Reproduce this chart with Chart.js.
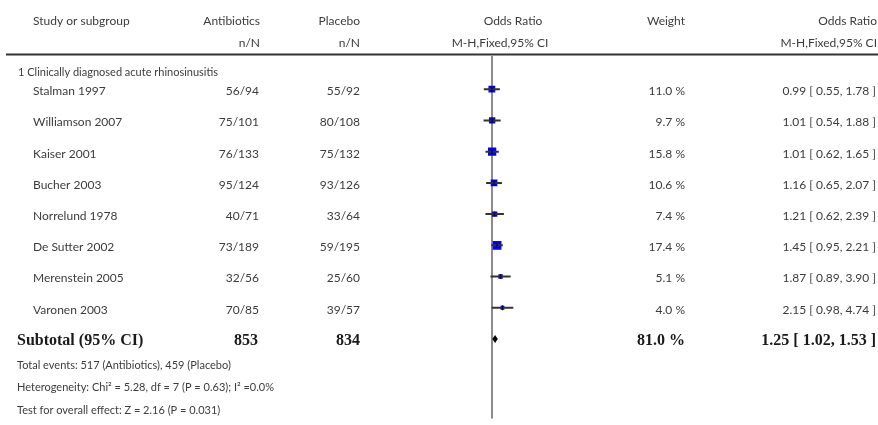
<!DOCTYPE html>
<html>
<head>
<meta charset="utf-8">
<script src="https://cdn.jsdelivr.net/npm/chart.js@4"></script>
<style>
  body { margin: 0; background: #fff; }
  #wrap { width: 878px; height: 425px; position: relative; }
</style>
</head>
<body>
<div id="wrap"><canvas id="forest"></canvas></div>
<script>
// study data
var studies = ["Stalman 1997", "Williamson 2007", "Kaiser 2001", "Bucher 2003",
               "Norrelund 1978", "De Sutter 2002", "Merenstein 2005", "Varonen 2003"];
var antibiotics = ["56/94", "75/101", "76/133", "95/124", "40/71", "73/189", "32/56", "70/85"];
var placebo = ["55/92", "80/108", "75/132", "93/126", "33/64", "59/195", "25/60", "39/57"];
var oddsRatio = [0.99, 1.01, 1.01, 1.16, 1.21, 1.45, 1.87, 2.15];
var ciLow = [0.55, 0.54, 0.62, 0.65, 0.62, 0.95, 0.89, 0.98];
var ciHigh = [1.78, 1.88, 1.65, 2.07, 2.39, 2.21, 3.90, 4.74];
var weights = [11.0, 9.7, 15.8, 10.6, 7.4, 17.4, 5.1, 4.0];

var subtotal = { antibiotics: "853", placebo: "834", or: 1.25, lo: 1.02, hi: 1.53, weight: "81.0 %" };
var footer = [
  "Total events: 517 (Antibiotics), 459 (Placebo)",
  "Heterogeneity: Chi\u00b2 = 5.28, df = 7 (P = 0.63); I\u00b2 =0.0%",
  "Test for overall effect: Z = 2.16 (P = 0.031)"
];

var yMin = -0.063, yMax = 11.556;
var subRow = studies.length + 1;

var squares = [], ticks = [], ci = [];
for (var i = 0; i < studies.length; i++) {
  squares.push({ x: oddsRatio[i], y: i + 1 });
  ticks.push({ x: oddsRatio[i], y: i + 1 });
  ci.push({ x: ciLow[i], y: i + 1 }, { x: ciHigh[i], y: i + 1 }, { x: NaN, y: NaN });
}

function fmt(v) { return v.toFixed(2); }

var textColor = "#3c3c3c";
var sans = "Lato, 'Open Sans', sans-serif";
var serif = "'Liberation Serif', 'DejaVu Serif', serif";

var tablePlugin = {
  id: "table",
  afterDatasetsDraw: function (chart) {
    var ctx = chart.ctx;
    var xs = chart.scales.x, ys = chart.scales.y;

    // subtotal diamond
    var yd = ys.getPixelForValue(subRow);
    ctx.save();
    ctx.fillStyle = "#000";
    ctx.beginPath();
    ctx.moveTo(xs.getPixelForValue(subtotal.lo), yd);
    ctx.lineTo(xs.getPixelForValue(subtotal.or), yd - 4);
    ctx.lineTo(xs.getPixelForValue(subtotal.hi), yd);
    ctx.lineTo(xs.getPixelForValue(subtotal.or), yd + 4);
    ctx.closePath();
    ctx.fill();
    ctx.restore();
  },
  afterDraw: function (chart) {
    var ctx = chart.ctx;
    var ys = chart.scales.y;
    ctx.save();
    ctx.textBaseline = "middle";
    ctx.fillStyle = textColor;

    function txt(s, x, y, align, font) {
      ctx.font = font || ("12px " + sans);
      ctx.textAlign = align || "left";
      ctx.fillText(s, x, y);
    }

    // headers
    txt("Study or subgroup", 33, 21);
    txt("Antibiotics", 260, 21, "right");
    txt("n/N", 260, 43, "right");
    txt("Placebo", 360, 21, "right");
    txt("n/N", 360, 43, "right");
    txt("Odds Ratio", 513, 21, "center");
    txt("M-H,Fixed,95% CI", 500, 43, "center");
    txt("Weight", 685, 21, "right");
    txt("Odds Ratio", 877, 21, "right");
    txt("M-H,Fixed,95% CI", 877, 43, "right");

    // rule under header
    ctx.strokeStyle = "#333";
    ctx.lineWidth = 2;
    ctx.beginPath();
    ctx.moveTo(6, 54.5);
    ctx.lineTo(878, 54.5);
    ctx.stroke();

    txt("1 Clinically diagnosed acute rhinosinusitis", 18, 72, "left", "11px " + sans);

    for (var i = 0; i < studies.length; i++) {
      var y = ys.getPixelForValue(i + 1) + 2;
      txt(studies[i], 33, y);
      txt(antibiotics[i], 259, y, "right");
      txt(placebo[i], 360, y, "right");
      txt(weights[i].toFixed(1) + " %", 685, y, "right");
      txt(fmt(oddsRatio[i]) + " [ " + fmt(ciLow[i]) + ", " + fmt(ciHigh[i]) + " ]", 876, y, "right");
    }

    var ys2 = ys.getPixelForValue(subRow) + 2;
    var bold = "bold 16px " + serif;
    ctx.fillStyle = "#1a1a1a";
    txt("Subtotal (95% CI)", 17, ys2, "left", bold);
    txt(subtotal.antibiotics, 258, ys2, "right", bold);
    txt(subtotal.placebo, 360, ys2, "right", bold);
    txt(subtotal.weight, 685, ys2, "right", bold);
    txt(fmt(subtotal.or) + " [ " + fmt(subtotal.lo) + ", " + fmt(subtotal.hi) + " ]", 876, ys2, "right", bold);

    ctx.fillStyle = textColor;
    for (var k = 0; k < footer.length; k++) {
      txt(footer[k], 17, 365 + k * 22.5, "left", "11px " + sans);
    }
    ctx.restore();
  }
};

var ctx = document.getElementById("forest").getContext("2d");
var chart = new Chart(ctx, {
  type: "scatter",
  data: {
    datasets: [
      {
        label: "no effect",
        data: [{ x: 1, y: yMin }, { x: 1, y: yMax }],
        showLine: true,
        borderColor: "#8c8c8c",
        borderWidth: 2,
        pointRadius: 0,
        order: 4
      },
      {
        label: "weight",
        data: squares,
        pointStyle: "rect",
        pointRadius: weights.map(function (w) { return 1.6 * Math.sqrt(w) - 0.5; }),
        backgroundColor: "#0000ff",
        borderWidth: 0,
        order: 3
      },
      {
        label: "95% CI",
        data: ci,
        showLine: true,
        spanGaps: false,
        borderColor: "#333",
        borderWidth: 2,
        pointRadius: 0,
        order: 2
      },
      {
        label: "estimate",
        data: ticks,
        pointStyle: "line",
        rotation: 90,
        pointRadius: 2.5,
        borderColor: "#111",
        borderWidth: 1.5,
        order: 1
      }
    ]
  },
  options: {
    responsive: true,
    maintainAspectRatio: false,
    animation: false,
    layout: { padding: { left: 429, right: 323, top: 56, bottom: 3 } },
    scales: {
      x: { type: "logarithmic", min: 0.01, max: 100, display: false },
      y: { type: "linear", min: yMin, max: yMax, reverse: true, display: false }
    },
    plugins: {
      legend: { display: false },
      tooltip: { enabled: false }
    }
  },
  plugins: [tablePlugin]
});
</script>
</body>
</html>
